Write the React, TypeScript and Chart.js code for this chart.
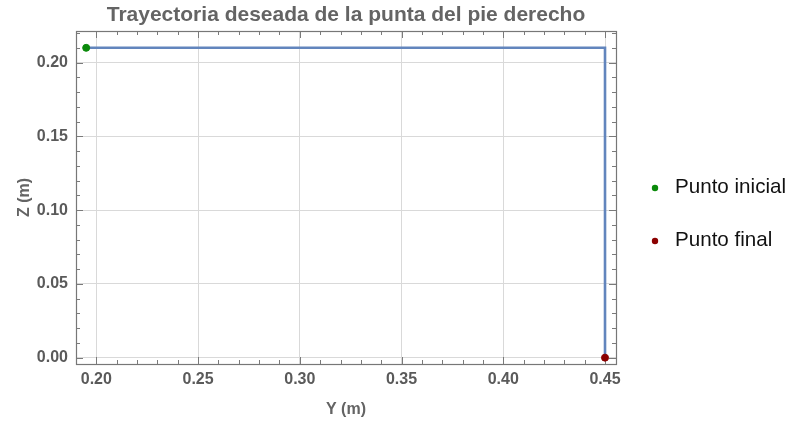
import React, { useEffect, useRef } from "react";
import { Chart, registerables } from "chart.js";

Chart.register(...registerables);

// ---- data ----
const pathY = [0.195, 0.45, 0.45];
const pathZ = [0.21, 0.21, 0.0];
const startY = [0.195];
const startZ = [0.21];
const endY = [0.45];
const endZ = [0.0];
const xTicks = [0.2, 0.25, 0.3, 0.35, 0.4, 0.45];
const yTicks = [0.0, 0.05, 0.1, 0.15, 0.2];
const xMinor = [0.19, 0.2, 0.21, 0.22, 0.23, 0.24, 0.25, 0.26, 0.27, 0.28, 0.29, 0.3, 0.31, 0.32, 0.33, 0.34, 0.35, 0.36, 0.37, 0.38, 0.39, 0.4, 0.41, 0.42, 0.43, 0.44, 0.45];
const yMinor = [0.0, 0.01, 0.02, 0.03, 0.04, 0.05, 0.06, 0.07, 0.08, 0.09, 0.1, 0.11, 0.12, 0.13, 0.14, 0.15, 0.16, 0.17, 0.18, 0.19, 0.2, 0.21, 0.22];
const titleText = "Trayectoria deseada de la punta del pie derecho";
const xLabel = "Y (m)";
const yLabel = "Z (m)";
const legendLabels = ["Punto inicial", "Punto final"];

const FONT = "'Liberation Sans', Arial, sans-serif";

const framePlugin = {
  id: "framePlugin",
  beforeDatasetsDraw(chart: any) {
    const { ctx, chartArea: a, scales } = chart;
    const xs = scales.x;
    const ys = scales.y;
    ctx.save();
    ctx.strokeStyle = "#7a7a7a";
    ctx.lineWidth = 1;
    ctx.beginPath();
    const isMajor = (v: number, arr: number[]) => arr.some((t) => Math.abs(t - v) < 1e-9);
    for (const v of xMinor) {
      const px = Math.round(xs.getPixelForValue(v)) + 0.5;
      if (px < a.left || px > a.right) continue;
      const len = isMajor(v, xTicks) ? 7 : 4;
      ctx.moveTo(px, a.bottom);
      ctx.lineTo(px, a.bottom - len);
      ctx.moveTo(px, a.top);
      ctx.lineTo(px, a.top + len);
    }
    for (const v of yMinor) {
      const py = Math.round(ys.getPixelForValue(v)) + 0.5;
      if (py < a.top || py > a.bottom) continue;
      const len = isMajor(v, yTicks) ? 7 : 4;
      ctx.moveTo(a.left, py);
      ctx.lineTo(a.left + len, py);
      ctx.moveTo(a.right, py);
      ctx.lineTo(a.right - len, py);
    }
    ctx.stroke();
    ctx.lineWidth = 1.2;
    ctx.strokeStyle = "#777";
    ctx.strokeRect(a.left + 0.5, a.top + 0.5, a.right - a.left, a.bottom - a.top);
    ctx.restore();
  },
  afterDraw(chart: any) {
    const { ctx } = chart;
    const ds = chart.data.datasets;
    ctx.save();
    ctx.font = `20.6px ${FONT}`;
    ctx.textBaseline = "middle";
    ctx.textAlign = "left";
    const rows = [0, 1];
    rows.forEach((i) => {
      const d = ds[i];
      const y = 187 + i * 53;
      ctx.fillStyle = d.backgroundColor;
      ctx.beginPath();
      ctx.arc(655, y + 1, 3.2, 0, Math.PI * 2);
      ctx.fill();
      ctx.fillStyle = "#111";
      ctx.fillText(d.label, 675, y);
    });
    ctx.restore();
  },
};

export default function App() {
  const ref = useRef<HTMLCanvasElement>(null);
  useEffect(() => {
    document.body.style.margin = "0";
    const canvas = ref.current!;
    const chart = new Chart(canvas, {
      type: "scatter",
      data: {
        datasets: [
          {
            label: legendLabels[0],
            data: startY.map((x, i) => ({ x, y: startZ[i] })),
            backgroundColor: "#0b8a0b",
            borderColor: "#0b8a0b",
            pointRadius: 3.5,
            showLine: false,
          },
          {
            label: legendLabels[1],
            data: endY.map((x, i) => ({ x, y: endZ[i] })),
            backgroundColor: "#8b0000",
            borderColor: "#8b0000",
            pointRadius: 3.5,
            showLine: false,
          },
          {
            label: "path",
            data: pathY.map((x, i) => ({ x, y: pathZ[i] })),
            borderColor: "#6285bd",
            backgroundColor: "#6285bd",
            borderWidth: 2.6,
            pointRadius: 0,
            showLine: true,
            tension: 0,
          },
        ],
      },
      options: {
        responsive: false,
        animation: false,
        events: [],
        layout: { padding: { left: 0, right: 179, top: 0, bottom: 0 } },
        plugins: {
          legend: { display: false },
          tooltip: { enabled: false },
          title: {
            display: true,
            text: titleText,
            fullSize: false,
            color: "#646464",
            font: { family: FONT, size: 21, weight: "bold" },
            padding: { top: 3, bottom: 2.8 },
          },
        },
        scales: {
          x: {
            type: "linear",
            min: 0.19,
            max: 0.4554,
            afterBuildTicks: (s: any) => {
              s.ticks = xTicks.map((v) => ({ value: v }));
            },
            afterFit: (s: any) => {
              s.height = 58;
            },
            grid: { color: "#d9d9d9", drawTicks: false, lineWidth: 1 },
            border: { display: false },
            ticks: {
              color: "#5a5a5a",
              font: { family: FONT, size: 16, weight: "bold" },
              padding: 6,
              maxRotation: 0,
              callback: (v: any) => Number(v).toFixed(2),
            },
            title: {
              display: true,
              text: xLabel,
              color: "#646464",
              font: { family: FONT, size: 16, weight: "bold" },
              padding: { top: 0, bottom: 2.5 },
            },
          },
          y: {
            type: "linear",
            min: -0.0043,
            max: 0.2214,
            afterBuildTicks: (s: any) => {
              s.ticks = yTicks.map((v) => ({ value: v }));
            },
            afterFit: (s: any) => {
              s.width = 76;
            },
            grid: { color: "#d9d9d9", drawTicks: false, lineWidth: 1 },
            border: { display: false },
            ticks: {
              color: "#5a5a5a",
              font: { family: FONT, size: 16, weight: "bold" },
              padding: 8,
              callback: (v: any) => Number(v).toFixed(2),
            },
            title: {
              display: true,
              text: yLabel,
              color: "#646464",
              font: { family: FONT, size: 16, weight: "bold" },
              padding: { top: 15, bottom: 0 },
            },
          },
        },
      } as any,
      plugins: [framePlugin],
    });
    return () => chart.destroy();
  }, []);
  return (
    <div style={{ width: 795, height: 422 }}>
      <canvas ref={ref} width={795} height={422} style={{ display: "block" }} />
    </div>
  );
}
